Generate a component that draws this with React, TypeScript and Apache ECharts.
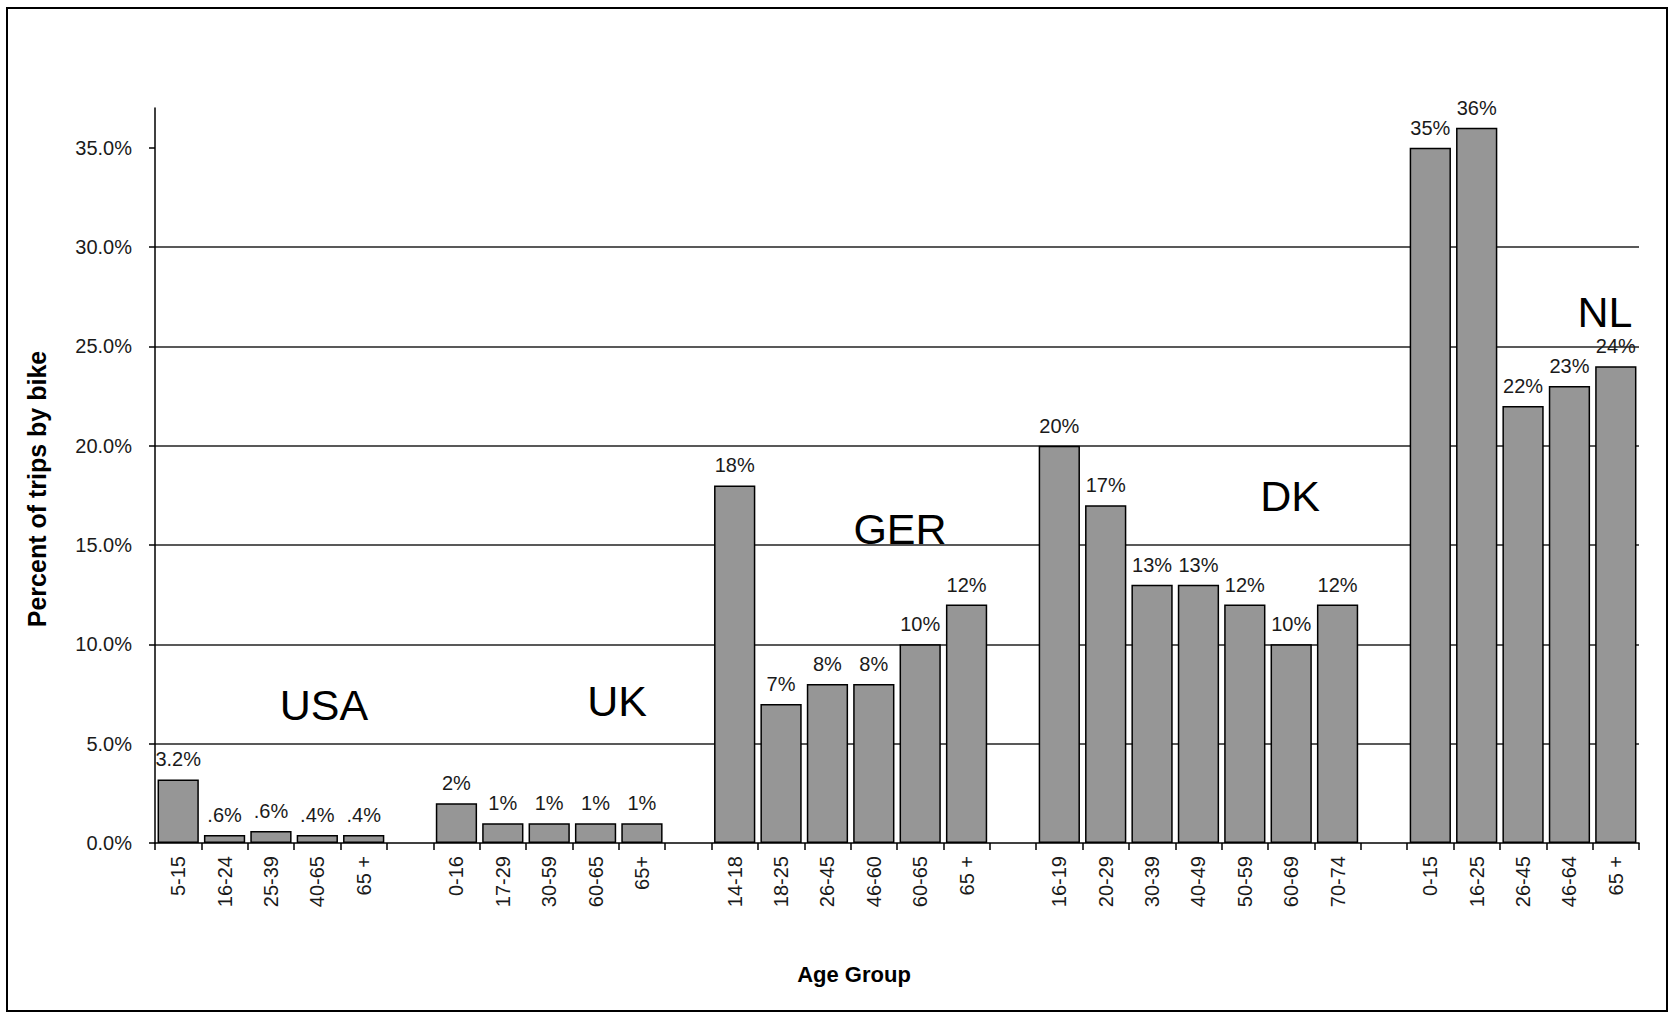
import React, { useEffect, useRef } from "react";
import * as echarts from "echarts";

// ---- Data ----
const usaAges = ["5-15", "16-24", "25-39", "40-65", "65 +"];
const usaValues = [3.2, 0.4, 0.6, 0.4, 0.4];
const usaLabels = ["3.2%", ".6%", ".6%", ".4%", ".4%"];

const ukAges = ["0-16", "17-29", "30-59", "60-65", "65+"];
const ukValues = [2, 1, 1, 1, 1];
const ukLabels = ["2%", "1%", "1%", "1%", "1%"];

const gerAges = ["14-18", "18-25", "26-45", "46-60", "60-65", "65 +"];
const gerValues = [18, 7, 8, 8, 10, 12];
const gerLabels = ["18%", "7%", "8%", "8%", "10%", "12%"];

const dkAges = ["16-19", "20-29", "30-39", "40-49", "50-59", "60-69", "70-74"];
const dkValues = [20, 17, 13, 13, 12, 10, 12];
const dkLabels = ["20%", "17%", "13%", "13%", "12%", "10%", "12%"];

const nlAges = ["0-15", "16-25", "26-45", "46-64", "65 +"];
const nlValues = [35, 36, 22, 23, 24];
const nlLabels = ["35%", "36%", "22%", "23%", "24%"];

const countries = ["USA", "UK", "GER", "DK", "NL"];
const yTicks = [0, 5, 10, 15, 20, 25, 30, 35];

const FONT = "Arial, 'Liberation Sans', sans-serif";

export default function App() {
  const ref = useRef<HTMLDivElement>(null);

  useEffect(() => {
    if (!ref.current) return;
    const chart = echarts.init(ref.current, undefined, { renderer: "svg" });

    const groups = [
      { ages: usaAges, values: usaValues, labels: usaLabels },
      { ages: ukAges, values: ukValues, labels: ukLabels },
      { ages: gerAges, values: gerValues, labels: gerLabels },
      { ages: dkAges, values: dkValues, labels: dkLabels },
      { ages: nlAges, values: nlValues, labels: nlLabels },
    ];

    const cats: string[] = [];
    const vals: (number | string)[] = [];
    const labs: string[] = [];
    groups.forEach((g, gi) => {
      if (gi > 0) {
        cats.push("gap" + gi);
        vals.push("-");
        labs.push("");
      }
      g.ages.forEach((a, i) => {
        cats.push(countries[gi] + "|" + a);
        vals.push(g.values[i]);
        labs.push(g.labels[i]);
      });
    });

    const countryPos = [
      { t: "USA", x: 324, y: 705 },
      { t: "UK", x: 617, y: 701 },
      { t: "GER", x: 900, y: 529 },
      { t: "DK", x: 1290, y: 496 },
      { t: "NL", x: 1605, y: 312 },
    ];

    chart.setOption({
      animation: false,
      backgroundColor: "#ffffff",
      grid: { left: 155, right: 30, top: 108, bottom: 170, containLabel: false },
      xAxis: {
        type: "category",
        data: cats,
        boundaryGap: true,
        axisLine: { show: true, lineStyle: { color: "#000", width: 1.5 } },
        axisTick: { show: true, length: 7, interval: 0, lineStyle: { color: "#000", width: 1.5 } },
        axisLabel: {
          interval: 0,
          rotate: 90,
          margin: 13,
          color: "#1a1a1a",
          fontFamily: FONT,
          fontSize: 20,
          formatter: (v: string) => (v.indexOf("|") >= 0 ? v.split("|")[1] : ""),
        },
        splitLine: { show: false },
      },
      yAxis: {
        type: "value",
        min: 0,
        max: 37,
        interval: 5,
        axisLine: { show: true, lineStyle: { color: "#000", width: 1.5 } },
        axisTick: {
          show: true,
          length: 6,
          customValues: yTicks,
          lineStyle: { color: "#000", width: 1.5 },
        },
        axisLabel: {
          margin: 23,
          color: "#1a1a1a",
          fontFamily: FONT,
          fontSize: 20,
          customValues: yTicks,
          formatter: (v: number) => v.toFixed(1) + "%",
        },
        splitLine: {
          show: true,
          showMinLine: false,
          showMaxLine: false,
          lineStyle: { color: "#222", width: 1.5 },
        },
      },
      series: [
        {
          type: "bar",
          data: vals,
          barCategoryGap: "11%",
          itemStyle: { color: "#969696", borderColor: "#000", borderWidth: 1.5 },
          label: {
            show: true,
            position: "top",
            distance: 10,
            color: "#1a1a1a",
            fontFamily: FONT,
            fontSize: 20,
            formatter: (p: any) => labs[p.dataIndex],
          },
        },
      ],
      graphic: [
        {
          type: "rect",
          shape: { x: 7, y: 8, width: 1660, height: 1003 },
          style: { fill: "none", stroke: "#000", lineWidth: 2 },
          silent: true,
        },
        ...countryPos.map((c) => ({
          type: "text",
          x: c.x,
          y: c.y,
          style: {
            text: c.t,
            fill: "#000",
            font: `43px ${FONT}`,
            textAlign: "center",
            textVerticalAlign: "middle",
          },
          silent: true,
        })),
        {
          type: "text",
          x: 37,
          y: 489,
          rotation: Math.PI / 2,
          style: {
            text: "Percent of trips by bike",
            fill: "#000",
            font: `bold 25px ${FONT}`,
            textAlign: "center",
            textVerticalAlign: "middle",
          },
        },
        {
          type: "text",
          x: 854,
          y: 974,
          style: {
            text: "Age Group",
            fill: "#000",
            font: `bold 22px ${FONT}`,
            textAlign: "center",
            textVerticalAlign: "middle",
          },
        },
      ],
    });

    return () => chart.dispose();
  }, []);

  return (
    <div
      ref={ref}
      style={{ position: "fixed", left: 0, top: 0, width: 1669, height: 1013, background: "#fff" }}
    />
  );
}
